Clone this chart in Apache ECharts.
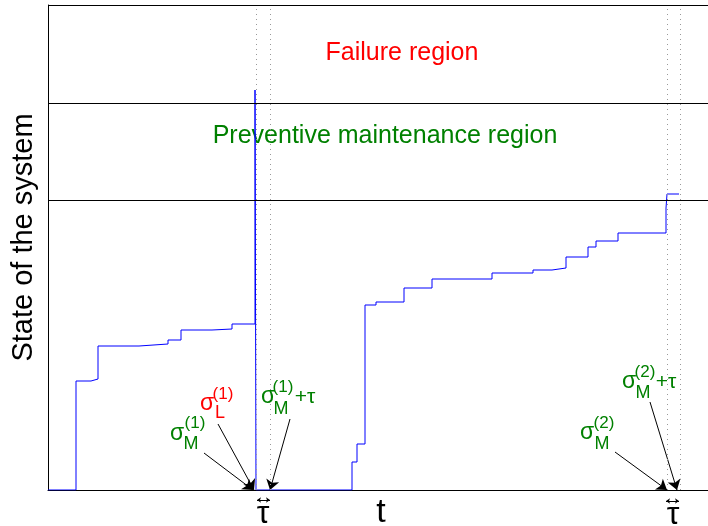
<!DOCTYPE html>
<html>
<head>
<meta charset="utf-8">
<script src="https://cdn.jsdelivr.net/npm/echarts@6/dist/echarts.min.js"></script>
<style>
  html, body { margin: 0; padding: 0; background: #fff; }
  #chart { width: 708px; height: 526px; }
</style>
</head>
<body>
<div id="chart"></div>
<script>
// system state path: jump times and state after each jump
var stepTimes  = [0, 28, 43, 50, 91, 120, 133, 164, 184, 207, 208, 304, 309, 317, 328, 356, 384, 444, 485, 504, 518, 540, 548, 570, 618, 619, 631];
var stepStates = [0, 109, 111, 144, 146, 150, 160, 161, 166, 400, 0, 28, 46, 185, 188, 202, 211, 217, 220, 222, 233, 243, 249, 257, 282, 296, 296];

// maintenance instants (dotted lines): sigma_M(1), sigma_M(1)+tau, sigma_M(2), sigma_M(2)+tau
var maintenanceTimes = [208, 222, 619, 632];
// thresholds: preventive level, failure level
var regionLevels = [290, 387];
var regionNames = ['Preventive maintenance region', 'Failure region'];

var xMax = 660, yMax = 485;

var green = '#008000', red = '#ff0000';
var font = 'Liberation Sans, Arial, Helvetica, sans-serif';

// text pieces: [x, y, text, colour, size]
var labels = [
    [354, 437, regionNames[1], red, 25],
    [337, 354, regionNames[0], green, 25],
    // sigma_M(1)
    [129, 56, 'σ', green, 23], [147, 67, '(1)', green, 17], [143, 46, 'M', green, 18],
    // sigma_L(1)
    [159, 86, 'σ', red, 23], [175, 96, '(1)', red, 17], [172, 77, 'L', red, 18],
    // sigma_M(1)+tau
    [220, 93, 'σ', green, 23], [235, 103, '(1)', green, 17], [233, 81, 'M', green, 18], [257, 93, '+τ', green, 21],
    // sigma_M(2)
    [539, 57, 'σ', green, 23], [556, 67, '(2)', green, 17], [554, 46, 'M', green, 18],
    // sigma_M(2)+tau
    [581, 108, 'σ', green, 23], [597, 118, '(2)', green, 17], [595, 97, 'M', green, 18], [618, 108, '+τ', green, 21],
    // tau below the axis
    [215, -24, 'τ', '#000', 32],
    [625, -25, 'τ', '#000', 32]
];

// arrows: [fromX, fromY, toX, toY]
var arrows = [
    [156, 37, 205, 0],
    [170, 66, 206, 0],
    [242, 71, 222, 0],
    [567, 38, 619, 0],
    [602, 88, 629, 0]
];
// tau width markers below the axis: [fromX, toX, y]
var tauMarks = [
    [209, 222, -10],
    [618, 631, -11]
];

var chart = echarts.init(document.getElementById('chart'));

var pathData = stepTimes.map(function (t, i) { return [t, stepStates[i]]; });

var refLines = maintenanceTimes.map(function (t) {
    return { xAxis: t, lineStyle: { color: '#999', type: [1, 4], width: 1 } };
});
regionLevels.concat([yMax]).forEach(function (v) {
    refLines.push({ yAxis: v, lineStyle: { color: '#000', type: 'solid', width: 1 } });
});

var option = {
    animation: false,
    grid: { left: 48, top: 5, right: 0, bottom: 36, outerBoundsMode: 'none' },
    xAxis: {
        type: 'value', min: 0, max: xMax,
        name: 't', nameLocation: 'middle', nameGap: 6,
        nameTextStyle: { fontSize: 34, color: '#000', fontFamily: font, padding: [0, 0, 0, 6] },
        axisLine: { show: true, lineStyle: { color: '#000', width: 1 } },
        axisTick: { show: false }, axisLabel: { show: false }, splitLine: { show: false }
    },
    yAxis: {
        type: 'value', min: 0, max: yMax,
        name: 'State of the system', nameLocation: 'middle', nameGap: 10,
        nameTextStyle: { fontSize: 29, color: '#000', fontFamily: font, padding: [0, 0, 0, 20] },
        axisLine: { show: true, lineStyle: { color: '#000', width: 1 } },
        axisTick: { show: false }, axisLabel: { show: false }, splitLine: { show: false }
    },
    series: [
        {
            type: 'line',
            data: [],
            silent: true,
            markLine: {
                silent: true, symbol: ['none', 'none'], label: { show: false },
                data: refLines
            }
        },
        {
            type: 'line',
            data: pathData,
            step: 'end',
            symbol: 'none',
            silent: true,
            lineStyle: { color: '#0000ff', width: 1 },
            z: 3
        },
        {
            type: 'lines',
            coordinateSystem: 'cartesian2d',
            silent: true,
            clip: false,
            symbol: ['none', 'arrow'],
            symbolSize: 10,
            lineStyle: { color: '#000', width: 1, opacity: 1 },
            data: arrows.map(function (a) {
                return { coords: [[a[0], a[1]], [a[2], a[3]]] };
            })
        },
        {
            type: 'lines',
            coordinateSystem: 'cartesian2d',
            silent: true,
            clip: false,
            symbol: ['arrow', 'arrow'],
            symbolSize: 4,
            lineStyle: { color: '#000', width: 1, opacity: 1 },
            data: tauMarks.map(function (m) {
                return { coords: [[m[0], m[2]], [m[1], m[2]]] };
            })
        },
        {
            type: 'scatter',
            silent: true,
            clip: false,
            symbolSize: 0,
            itemStyle: { opacity: 1 },
            data: labels.map(function (l) {
                return {
                    value: [l[0], l[1]],
                    label: {
                        show: true, position: 'inside', formatter: l[2],
                        color: l[3], fontSize: l[4], fontFamily: font,
                        align: 'center', verticalAlign: 'middle', opacity: 1
                    }
                };
            })
        }
    ]
};

chart.setOption(option);
</script>
</body>
</html>
